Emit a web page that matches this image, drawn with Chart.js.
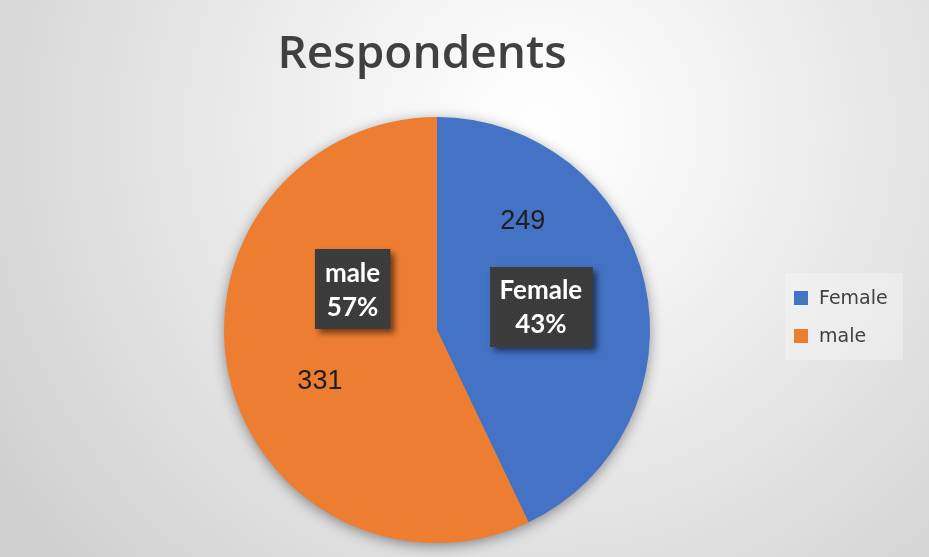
<!DOCTYPE html>
<html>
<head>
<meta charset="utf-8">
<title>Respondents</title>
<script src="https://cdn.jsdelivr.net/npm/chart.js@4/dist/chart.umd.min.js"></script>
<style>
    html, body { margin: 0; padding: 0; background: #ffffff; }
    #wrap { width: 929px; height: 557px; }
</style>
</head>
<body>
<div id="wrap"><canvas id="pie-chart" width="929" height="557"></canvas></div>
<script>
// Data
const categories = ["Female", "male"];
const respondents = [249, 331];
const chartTitle = "Respondents";

const sliceColors = ["#4472C4", "#ED7D31"];

// where Excel put the labels: angle clockwise from 12 o'clock (deg), distance as fraction of radius
const valueLabelSpots = [[38.3, 0.65], [246.4, 0.60]];
const boxLabelSpots = [null, [295.7, 0.44]]; // null = slice centroid

function polar(arc, spot) {
    const a = spot[0] * Math.PI / 180;
    const d = spot[1] * arc.outerRadius;
    return { x: arc.x + d * Math.sin(a), y: arc.y - d * Math.cos(a) };
}

// dotted dark fill used by Excel's callout style
function makePattern(ctx) {
    const tile = document.createElement("canvas");
    tile.width = 4;
    tile.height = 4;
    const t = tile.getContext("2d");
    t.fillStyle = "#3a3a3a";
    t.fillRect(0, 0, 4, 4);
    t.fillStyle = "#474747";
    t.fillRect(0, 0, 1, 1);
    t.fillRect(2, 2, 1, 1);
    return ctx.createPattern(tile, "repeat");
}

const decorPlugin = {
    id: "decor",
    beforeDraw(chart) {
        const ctx = chart.ctx;
        const w = chart.width, h = chart.height;
        ctx.save();
        const g = ctx.createRadialGradient(540, 130, 0, 540, 130, 640);
        g.addColorStop(0, "#ffffff");
        g.addColorStop(0.2, "#f7f7f7");
        g.addColorStop(1, "#d0d0d0");
        ctx.fillStyle = g;
        ctx.fillRect(0, 0, w, h);

        // title
        ctx.fillStyle = "#404040";
        ctx.font = "600 46px 'Open Sans'";
        ctx.textAlign = "center";
        ctx.textBaseline = "alphabetic";
        ctx.fillText(chartTitle, 422, 68);

        // legend
        ctx.fillStyle = "rgba(255,255,255,0.3)";
        ctx.fillRect(785, 273, 118, 87);
        ctx.font = "19px 'DejaVu Sans'";
        ctx.textAlign = "left";
        ctx.textBaseline = "middle";
        categories.forEach((name, i) => {
            const y = 298 + i * 38;
            ctx.fillStyle = sliceColors[i];
            ctx.fillRect(794, y - 7, 14, 14);
            ctx.fillStyle = "#404040";
            ctx.fillText(name, 819, y + 1);
        });
        ctx.restore();
    },
    beforeDatasetsDraw(chart) {
        // soft shadow under the whole pie
        const arc = chart.getDatasetMeta(0).data[0];
        if (!arc) return;
        const ctx = chart.ctx;
        ctx.save();
        ctx.shadowColor = "rgba(0,0,0,0.45)";
        ctx.shadowBlur = 14;
        ctx.shadowOffsetY = 3;
        ctx.fillStyle = "#888888";
        ctx.beginPath();
        ctx.arc(arc.x, arc.y, arc.outerRadius - 1, 0, Math.PI * 2);
        ctx.fill();
        ctx.restore();
    },
    afterDatasetsDraw(chart) {
        const ctx = chart.ctx;
        const arcs = chart.getDatasetMeta(0).data;
        const total = respondents.reduce((a, b) => a + b, 0);
        const pattern = makePattern(ctx);
        ctx.save();

        // value labels
        ctx.font = "27px 'Liberation Sans'";
        ctx.textAlign = "center";
        ctx.textBaseline = "middle";
        ctx.fillStyle = "#1e1e1e";
        arcs.forEach((arc, i) => {
            const p = polar(arc, valueLabelSpots[i]);
            ctx.fillText(String(respondents[i]), p.x, p.y);
        });

        // category + percent callouts
        ctx.font = "bold 26px Lato";
        arcs.forEach((arc, i) => {
            const p = boxLabelSpots[i] ? polar(arc, boxLabelSpots[i]) : arc.tooltipPosition();
            const pct = Math.round(respondents[i] / total * 100) + "%";
            const lines = [categories[i], pct];
            const tw = Math.max(...lines.map((s) => ctx.measureText(s).width));
            const bw = tw + 20, bh = 80;
            ctx.save();
            ctx.shadowColor = "rgba(0,0,0,0.55)";
            ctx.shadowBlur = 6;
            ctx.shadowOffsetX = 4;
            ctx.shadowOffsetY = 4;
            ctx.fillStyle = pattern;
            ctx.fillRect(Math.round(p.x - bw / 2), Math.round(p.y - bh / 2), bw, bh);
            ctx.restore();
            ctx.fillStyle = "#ffffff";
            ctx.fillText(lines[0], p.x, p.y - 16);
            ctx.fillText(lines[1], p.x, p.y + 18);
        });
        ctx.restore();
    }
};

const ctx = document.getElementById("pie-chart").getContext("2d");
new Chart(ctx, {
    type: "pie",
    data: {
        labels: categories,
        datasets: [{
            data: respondents,
            backgroundColor: sliceColors,
            borderWidth: 0,
            clip: false
        }]
    },
    options: {
        responsive: false,
        animation: false,
        layout: {
            padding: { left: 224, right: 279, top: 117, bottom: 14 }
        },
        plugins: {
            legend: { display: false },
            title: { display: false },
            tooltip: { enabled: false }
        }
    },
    plugins: [decorPlugin]
});
</script>
</body>
</html>
